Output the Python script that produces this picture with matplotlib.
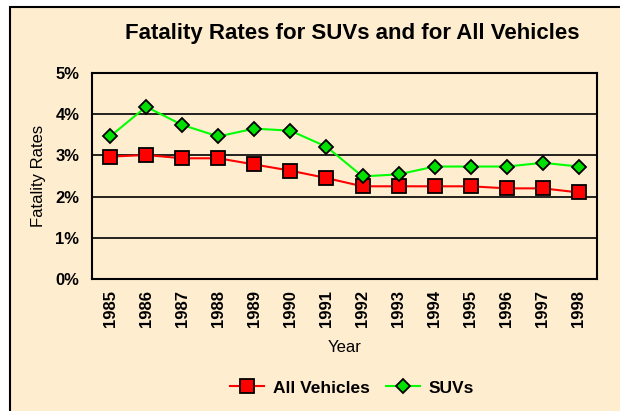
import matplotlib
matplotlib.use("Agg")
import matplotlib.pyplot as plt
from matplotlib.patches import Rectangle
from matplotlib.ticker import FuncFormatter

# -------------------
# DATA (percent)
# -------------------
years = ["1985", "1986", "1987", "1988", "1989", "1990", "1991",
         "1992", "1993", "1994", "1995", "1996", "1997", "1998"]
all_vehicles = [2.97, 3.01, 2.93, 2.93, 2.78, 2.63, 2.45,
                2.25, 2.25, 2.25, 2.25, 2.20, 2.20, 2.10]
suvs = [3.46, 4.18, 3.74, 3.46, 3.65, 3.60, 3.21,
        2.49, 2.54, 2.73, 2.73, 2.73, 2.82, 2.73]
y_ticks = [0, 1, 2, 3, 4, 5]

BG = "#FFEDCF"

plt.rcParams["font.family"] = ["Liberation Sans", "DejaVu Sans"]

fig = plt.figure(figsize=(6.2, 4.11), dpi=100)
fig.patch.set_facecolor("white")

# beige chart area with black frame (runs off the right/bottom edge)
frame = Rectangle((10 / 620, -0.1), 1.2, 1.1 - 7 / 411,
                  transform=fig.transFigure, facecolor=BG,
                  edgecolor="black", linewidth=1.5, zorder=-10)
fig.patches.append(frame)

ax = fig.add_axes([92 / 620, 1 - 279 / 411, 505 / 620, 206 / 411])
ax.set_facecolor(BG)

x = list(range(len(years)))
ax.plot(x, all_vehicles, color="red", linewidth=1.5, marker="s",
        markersize=9.5, markerfacecolor="red", markeredgecolor="black",
        markeredgewidth=1.3, label="All Vehicles", zorder=3)
ax.plot(x, suvs, color="#00FF00", linewidth=1.5, marker="D",
        markersize=7.5, markerfacecolor="#00E000", markeredgecolor="black",
        markeredgewidth=1.3, label="SUVs", zorder=3)

ax.set_xlim(-0.5, len(years) - 0.5)
ax.set_ylim(0, 5)
ax.set_yticks(y_ticks)
ax.yaxis.set_major_formatter(FuncFormatter(lambda v, p: f"{v:.0f}%"))
ax.set_xticks(x)
ax.set_xticklabels(years, rotation=90, fontweight="bold", fontsize=12)
for lbl in ax.get_yticklabels():
    lbl.set_fontweight("bold")
    lbl.set_fontsize(12)
ax.tick_params(axis="both", length=0)
ax.tick_params(axis="y", pad=9)
ax.tick_params(axis="x", pad=8)

ax.grid(axis="y", color="black", linewidth=1.2)
ax.set_axisbelow(True)
for sp in ax.spines.values():
    sp.set_linewidth(1.5)
    sp.set_color("black")

ax.set_ylabel("Fatality Rates", fontsize=12, labelpad=7)
ax.set_xlabel("Year", fontsize=12, labelpad=9)

fig.text(352 / 620, 1 - 34 / 411, "Fatality Rates for SUVs and for All Vehicles",
         ha="center", va="center", fontsize=16, fontweight="bold")

leg = fig.legend(loc="center", bbox_to_anchor=(352 / 620, 1 - 388 / 411),
                 ncol=2, frameon=False, prop={"weight": "bold", "size": 12.5},
                 handlelength=2.0, columnspacing=0.9, handletextpad=0.5)

fig.savefig("out.png", dpi=100, facecolor=fig.get_facecolor())
